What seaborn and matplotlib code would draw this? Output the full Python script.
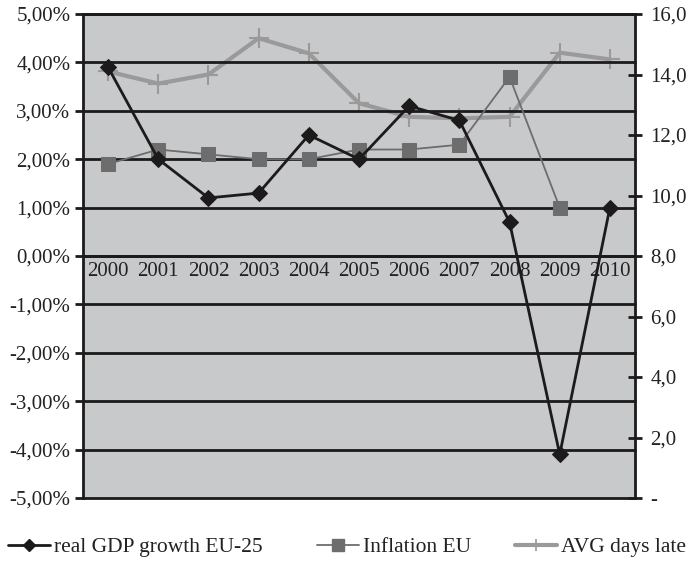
import numpy as np
import pandas as pd
import matplotlib
matplotlib.use("Agg")
import matplotlib.pyplot as plt
import seaborn as sns
from matplotlib.ticker import FixedLocator, FixedFormatter, NullFormatter
from matplotlib.lines import Line2D

years = ["2000", "2001", "2002", "2003", "2004", "2005", "2006", "2007", "2008", "2009", "2010"]
gdp_growth = [3.9, 2.0, 1.2, 1.3, 2.5, 2.0, 3.1, 2.8, 0.7, -4.1, 1.0]
inflation = [1.9, 2.2, 2.1, 2.0, 2.0, 2.2, 2.2, 2.3, 3.7, 1.0, np.nan]
avg_days_late = [14.1, 13.7, 14.0, 15.2, 14.7, 13.05, 12.6, 12.55, 12.6, 14.72, 14.5]

left_ticks = [-5, -4, -3, -2, -1, 0, 1, 2, 3, 4, 5]
left_labels = ["-5,00%", "-4,00%", "-3,00%", "-2,00%", "-1,00%", "0,00%",
               "1,00%", "2,00%", "3,00%", "4,00%", "5,00%"]
right_ticks = [0, 2, 4, 6, 8, 10, 12, 14, 16]
right_labels = ["-", "2,0", "4,0", "6,0", "8,0", "10,0", "12,0", "14,0", "16,0"]
series_names = ["real GDP growth EU-25", "Inflation EU", "AVG days late"]

sns.set_style("white")
plt.rcParams["font.family"] = ["Liberation Serif", "DejaVu Serif"]

df = pd.DataFrame({
    "pos": np.arange(len(years)),
    "year": years,
    "gdp": gdp_growth,
    "infl": inflation,
    "days": avg_days_late,
})

fig = plt.figure(figsize=(6.94, 5.68), dpi=100)
fig.patch.set_facecolor("white")
ax = fig.add_axes([83 / 694, 1 - 498 / 568, (635 - 83) / 694, (498 - 14) / 568])
ax2 = ax.twinx()

dark = "#1c1a1b"
c_infl = "#6d6d6d"
c_days = "#9a9a9a"
bg = "#c8c9cb"
txt = "#222222"

# grey plot area lives on the secondary axes, which sits underneath
ax2.set_zorder(1)
ax.set_zorder(2)
ax2.patch.set_visible(True)
ax2.patch.set_facecolor(bg)
ax.patch.set_visible(False)

# left axis: percentages
sns.lineplot(data=df, x="pos", y="gdp", ax=ax, color=dark, lw=2.0,
             marker="D", markersize=8, markeredgecolor=dark, zorder=5)
sns.lineplot(data=df.dropna(), x="pos", y="infl", ax=ax, color=c_infl, lw=1.3,
             marker="s", markersize=10, markeredgecolor=c_infl, zorder=4)
ax.set_xlim(-0.5, len(years) - 0.5)
ax.set_ylim(-5, 5)
ax.set_xlabel("")
ax.set_ylabel("")

# right axis: average days late
sns.lineplot(data=df, x="pos", y="days", ax=ax2, color=c_days, lw=3.0,
             marker="+", markersize=14, markeredgewidth=1.5, markeredgecolor=c_days, zorder=3)
ax2.set_ylim(0, 16)
ax2.set_ylabel("")
ax2.set_xlabel("")

# horizontal grid lines at each percent
for t in left_ticks:
    ax.axhline(t, color=dark, lw=2.0, zorder=1, clip_on=False)

ax.yaxis.set_major_locator(FixedLocator(left_ticks))
ax.yaxis.set_major_formatter(FixedFormatter(left_labels))
ax.tick_params(axis="y", which="major", direction="out", length=6, width=2,
               color=dark, labelsize=15, pad=3, labelcolor=txt)

ax2.yaxis.set_major_locator(FixedLocator(right_ticks))
ax2.yaxis.set_major_formatter(FixedFormatter(right_labels))
ax2.tick_params(axis="y", which="major", direction="inout", length=10, width=2,
                color=dark, labelsize=15, pad=6, labelcolor=txt)

# category axis sits on the zero line
ax.spines["bottom"].set_position(("data", 0))
ax.xaxis.set_major_locator(FixedLocator(np.arange(len(years) + 1) - 0.5))
ax.xaxis.set_major_formatter(NullFormatter())
ax.xaxis.set_minor_locator(FixedLocator(np.arange(len(years))))
ax.xaxis.set_minor_formatter(FixedFormatter(years))
ax.tick_params(axis="x", which="major", direction="out", length=5, width=2, color=dark)
ax.tick_params(axis="x", which="minor", length=0, labelsize=15, pad=4, labelcolor=txt)

for sp in ["left", "top", "bottom"]:
    ax.spines[sp].set_color(dark)
    ax.spines[sp].set_linewidth(2)
ax.spines["right"].set_visible(False)
for sp in ["left", "top", "bottom"]:
    ax2.spines[sp].set_visible(False)
ax2.spines["right"].set_color(dark)
ax2.spines["right"].set_linewidth(2)

# legend row below the plot, one entry per series
handles = [
    Line2D([], [], color=dark, lw=2.0, marker="D", markersize=6),
    Line2D([], [], color=c_infl, lw=1.3, marker="s", markersize=8),
    Line2D([], [], color=c_days, lw=3.0, marker="+", markersize=9, markeredgewidth=1.2),
]
entry_left = [8, 317, 515]
for h, name, x0 in zip(handles, series_names, entry_left):
    fig.legend([h], [name], loc="center left", bbox_to_anchor=(x0 / 694, 1 - 547 / 568),
               frameon=False, fontsize=15.5, handlelength=1.95, handletextpad=0.2,
               borderpad=0, borderaxespad=0, labelcolor=txt)

fig.savefig("out.png", dpi=100)
